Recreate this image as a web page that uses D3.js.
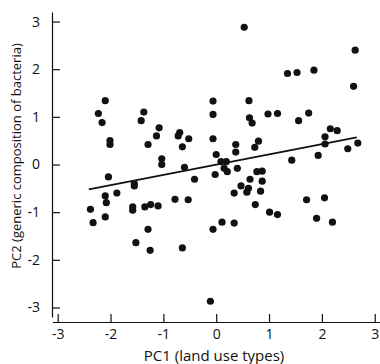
<!DOCTYPE html>
<html>
<head>
<meta charset="utf-8">
<script src="https://cdn.jsdelivr.net/npm/d3@7"></script>
<style>
  body { margin: 0; background: #fff; }
  svg { display: block; }
  text { font-family: "Open Sans", sans-serif; fill: #111; }
</style>
</head>
<body>
<svg></svg>
<script>
// PC1 (land use) and PC2 (bacteria composition) scores
const pc1 = [
  -2.23, -2.10, -2.16, -2.01, -2.01, -1.37, -1.42, -1.29, -1.13, -1.08,
  -1.03, -1.03, -0.72, -0.69, -0.64, -0.52, -0.60,
  -2.04, -1.55, -1.55, -2.10, -1.88, -2.08, -2.38, -2.33, -2.10, -1.58,
  -1.58, -1.35, -1.24, -1.10, -0.78, -0.53, -0.41, -1.29, -1.52, -1.25,
  -0.64, -0.11,
  0.53, 2.63, 1.35, 1.53, 1.85, 2.60, -0.06, 0.62, -0.06, 0.63,
  0.68, 0.98, 1.16, 1.75, 1.56, -0.06, 2.16, 2.29, 2.06, 0.37,
  0.37, 0.80, 0.73, 2.06, 2.68, 2.49, 0.00, 1.93, 1.43, 0.09,
  0.19, 0.15, 0.21, 0.40, -0.02, 0.77, 0.87, 0.64, 0.87, 0.47,
  0.61, 0.58, 0.34, 0.84, 0.74, 1.01, 1.16, 1.71, 2.05, 1.90,
  2.20, 0.11, -0.06, 0.34
];
const pc2 = [
  1.07, 1.34, 0.88, 0.50, 0.42, 1.10, 0.92, 0.42, 0.60, 0.77,
  0.12, 0.00, 0.60, 0.67, 0.37, 0.54, -0.06,
  -0.26, -0.40, -0.45, -0.66, -0.60, -0.80, -0.94, -1.22, -1.10, -0.89,
  -0.96, -0.89, -0.84, -0.87, -0.73, -0.74, -0.31, -1.36, -1.64, -1.80,
  -1.75, -2.87,
  2.88, 2.40, 1.91, 1.93, 1.98, 1.64, 1.33, 1.34, 1.05, 0.98,
  0.87, 1.06, 1.07, 1.08, 0.92, 0.54, 0.75, 0.71, 0.58, 0.42,
  0.26, 0.49, 0.36, 0.43, 0.45, 0.33, 0.21, 0.19, 0.09, 0.06,
  0.06, -0.08, -0.15, -0.08, -0.21, -0.15, -0.14, -0.31, -0.35, -0.45,
  -0.50, -0.58, -0.60, -0.56, -0.84, -1.00, -1.05, -0.74, -0.70, -1.13,
  -1.21, -1.21, -1.36, -1.23
];
// least-squares line, end points
const fitX = [-2.41, 2.66];
const fitY = [-0.52, 0.57];
const xTicks = [-3, -2, -1, 0, 1, 2, 3];
const yTicks = [-3, -2, -1, 0, 1, 2, 3];
const xTitle = 'PC1 (land use types)';
const yTitle = 'PC2 (generic composition of bacteria)';

const width = 380, height = 364;
const svg = d3.select('svg').attr('width', width).attr('height', height);

const x = d3.scaleLinear().domain([-3.1, 3.1]).range([52.4, 380]);
const y = d3.scaleLinear().domain([-3.2, 3.2]).range([317, 12]);

// plain hyphen for negatives, like the original
const fmt = d => String(d);

// axes, ticks pointing inward
const xAxis = svg.append('g')
  .attr('transform', 'translate(0,322)')
  .call(d3.axisBottom(x).tickValues(xTicks).tickFormat(fmt)
    .tickSizeInner(-8).tickSizeOuter(0).tickPadding(7));
const yAxis = svg.append('g')
  .attr('transform', 'translate(52,0)')
  .call(d3.axisLeft(y).tickValues(yTicks).tickFormat(fmt)
    .tickSizeInner(-8).tickSizeOuter(0).tickPadding(12));

[xAxis, yAxis].forEach(g => {
  g.selectAll('path, line').attr('stroke', '#111').attr('stroke-width', 1.2);
  g.selectAll('text').style('font-size', '14px').attr('fill', '#111');
});

svg.append('g')
  .selectAll('circle')
  .data(d3.zip(pc1, pc2))
  .enter()
  .append('circle')
  .attr('cx', d => x(d[0]))
  .attr('cy', d => y(d[1]))
  .attr('r', 3.6)
  .style('fill', '#111');

const line = d3.line()
  .x(d => x(d[0]))
  .y(d => y(d[1]));

svg.append('path')
  .datum(d3.zip(fitX, fitY))
  .attr('d', line)
  .style('fill', 'none')
  .style('stroke', '#111')
  .style('stroke-width', 1.8);

svg.append('text')
  .attr('x', 214)
  .attr('y', 361)
  .attr('text-anchor', 'middle')
  .style('font-size', '15px')
  .text(xTitle);

svg.append('text')
  .attr('transform', 'translate(21,156) rotate(-90)')
  .attr('text-anchor', 'middle')
  .style('font-size', '13px')
  .text(yTitle);
</script>
</body>
</html>
